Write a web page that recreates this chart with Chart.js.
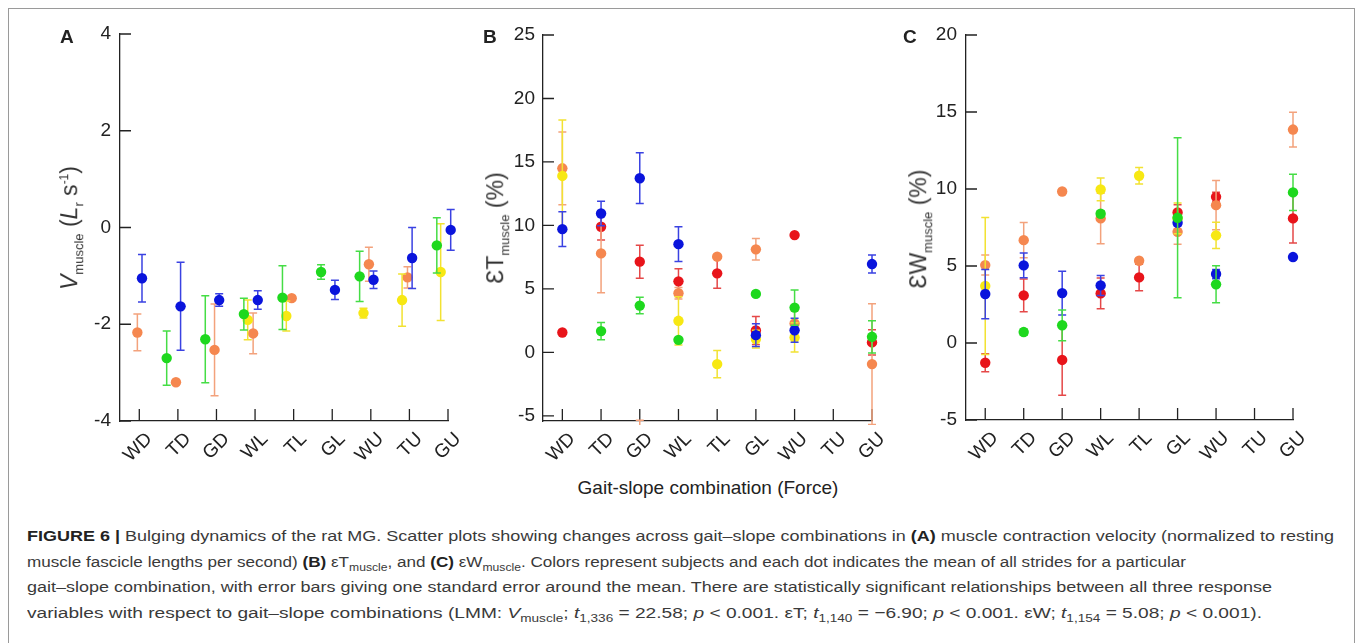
<!DOCTYPE html>
<html>
<head>
<meta charset="utf-8">
<script src="https://cdn.jsdelivr.net/npm/chart.js@4/dist/chart.umd.min.js"></script>
<style>
  body { margin: 0; background: #fff; width: 1357px; height: 643px; overflow: hidden; position: relative;
         font-family: "Liberation Sans", Arial, sans-serif; color: #222; }
  #frame { position: absolute; left: 8px; top: 8px; width: 1345px; height: 700px; border: 1px solid #9a9a9a; }
  canvas { position: absolute; }
  .letter { position: absolute; font-weight: bold; font-size: 19px; }
  .ytitle { position: absolute; white-space: nowrap; font-size: 23px; color: #333;
            transform: translate(-50%, -50%) rotate(-90deg); }
  .ytitle sub { font-size: 13px; }
  .ytitle sup { font-size: 12px; }
  #xtitle { position: absolute; left: 708px; top: 488px; transform: translate(-50%, -50%); font-size: 19px; white-space: nowrap; }
  .cap { position: absolute; left: 27px; white-space: nowrap; font-size: 15.5px; color: #3a3a3a; transform-origin: 0 50%; }
  .cap b { color: #222; }
  .cap sub { font-size: 11px; }
</style>
</head>
<body>
<div id="frame"></div>

<canvas id="chartA" width="390" height="450" style="left:70px;top:20px"></canvas>
<canvas id="chartB" width="390" height="450" style="left:500px;top:20px"></canvas>
<canvas id="chartC" width="390" height="450" style="left:920px;top:20px"></canvas>

<div class="letter" style="left:60px;top:26px">A</div>
<div class="letter" style="left:483px;top:26px">B</div>
<div class="letter" style="left:903px;top:26px">C</div>

<div class="ytitle" style="left:71px;top:228px"><i>V</i><sub>muscle</sub> (<i>L</i><sub>r</sub> s<sup>-1</sup>)</div>
<div class="ytitle" style="left:497px;top:228px">ƐT<sub>muscle</sub> (%)</div>
<div class="ytitle" style="left:920px;top:229px">ƐW<sub>muscle</sub> (%)</div>

<div id="xtitle">Gait-slope combination (Force)</div>

<div class="cap" data-w="1307" style="top:527px"><b>FIGURE 6 |</b> Bulging dynamics of the rat MG. Scatter plots showing changes across gait–slope combinations in <b>(A)</b> muscle contraction velocity (normalized to resting</div>
<div class="cap" data-w="1159" style="top:553px">muscle fascicle lengths per second) <b>(B)</b> εT<sub>muscle</sub>, and <b>(C)</b> εW<sub>muscle</sub>. Colors represent subjects and each dot indicates the mean of all strides for a particular</div>
<div class="cap" data-w="1245" style="top:578px">gait–slope combination, with error bars giving one standard error around the mean. There are statistically significant relationships between all three response</div>
<div class="cap" data-w="1235" style="top:604px">variables with respect to gait–slope combinations (LMM: <i>V</i><sub>muscle</sub>; <i>t</i><sub>1,336</sub> = 22.58; <i>p</i> &lt; 0.001. εT; <i>t</i><sub>1,140</sub> = −6.90; <i>p</i> &lt; 0.001. εW; <i>t</i><sub>1,154</sub> = 5.08; <i>p</i> &lt; 0.001).</div>

<script>
// Categories and ticks
const categories = ['WD', 'TD', 'GD', 'WL', 'TL', 'GL', 'WU', 'TU', 'GU'];
const velTicks = [-4, -2, 0, 2, 4];
const thickTicks = [-5, 0, 5, 10, 15, 20, 25];
const widthTicks = [-5, 0, 5, 10, 15, 20];

// Panel A: muscle velocity (mean, standard error)
const velGreen = [null, -2.70, -2.31, -1.79, -1.45, -0.92, -1.01, null, -0.37];
const velGreenErr = [null, 0.56, 0.90, 0.33, 0.66, 0.15, 0.52, null, 0.57];
const velBlue = [-1.05, -1.63, -1.50, -1.50, null, -1.29, -1.08, -0.63, -0.05];
const velBlueErr = [0.49, 0.91, 0.13, 0.19, null, 0.20, 0.18, 0.63, 0.42];
const velYellow = [null, null, null, -1.91, -1.83, null, -1.77, -1.50, -0.92];
const velYellowErr = [null, null, null, 0.41, 0.31, null, 0.10, 0.54, 1.00];
const velOrange = [-2.17, -3.20, -2.53, -2.19, -1.46, null, -0.76, -1.03, null];
const velOrangeErr = [0.38, 0.03, 0.95, 0.42, 0.05, null, 0.35, 0.22, null];
const velRed = [null, null, null, null, null, null, null, null, null];
const velRedErr = [null, null, null, null, null, null, null, null, null];

// Panel B: thickness strain
const thickGreen = [null, 1.68, 3.69, 0.99, null, 4.61, 3.53, null, 1.23];
const thickGreenErr = [null, 0.68, 0.65, 0.10, null, 0.10, 1.39, null, 1.27];
const thickBlue = [9.71, 10.94, 13.72, 8.53, null, 1.36, 1.75, null, 6.96];
const thickBlueErr = [1.36, 0.97, 2.00, 1.36, null, 0.90, 0.95, null, 0.71];
const thickYellow = [13.9, null, null, 2.49, -0.92, 1.05, 1.18, null, null];
const thickYellowErr = [4.40, null, null, 1.90, 1.08, 0.70, 1.15, null, null];
const thickOrange = [14.5, 7.8, -7.0, 4.66, 7.54, 8.12, 2.28, null, -0.92];
const thickOrangeErr = [2.87, 3.10, 1.65, 0.45, 0.10, 0.85, 1.00, null, 4.75];
const thickRed = [1.57, 9.9, 7.15, 5.6, 6.23, 1.73, 9.24, null, 0.79];
const thickRedErr = [0.05, 1.05, 1.30, 1.00, 1.18, 1.10, 0.05, null, 1.00];

// Panel C: width strain
const widthGreen = [null, 0.71, 1.15, 8.39, null, 8.13, 3.81, null, 9.78];
const widthGreenErr = [null, 0.20, 1.00, 0.20, null, 5.19, 1.20, null, 1.17];
const widthBlue = [3.18, 5.04, 3.24, 3.74, null, 7.81, 4.48, null, 5.58];
const widthBlueErr = [1.60, 0.81, 1.42, 0.65, null, 0.20, 0.30, null, 0.05];
const widthYellow = [3.70, null, null, 9.97, 10.86, 8.09, 6.99, null, null];
const widthYellowErr = [4.45, null, null, 0.74, 0.54, 1.00, 0.85, null, null];
const widthOrange = [5.06, 6.68, 9.84, 8.09, 5.34, 7.22, 8.95, null, 13.86];
const widthOrangeErr = [0.65, 1.15, 0.05, 1.64, 0.05, 0.80, 1.60, null, 1.13];
const widthRed = [-1.28, 3.09, -1.10, 3.22, 4.26, 8.48, 9.49, null, 8.09];
const widthRedErr = [0.58, 1.06, 2.30, 1.00, 0.86, 0.50, 0.30, null, 1.60];

// Estilo
const FONT = 'Liberation Sans, Arial, sans-serif';
const AXIS = '#222';
const subjects = [
  { name: 'Green', color: '#1ed81e', err: '#45dd45', dodge: -0.29 },
  { name: 'Blue', color: '#0a14dc', err: '#3a42e2', dodge: 0.07 },
  { name: 'Yellow', color: '#f7e813', err: '#f2e232', dodge: -0.19 },
  { name: 'Orange', color: '#f5874f', err: '#f3a27c', dodge: -0.05 },
  { name: 'Red', color: '#e8141a', err: '#e54848', dodge: 0.18 }
];

// Dibuja barras de error antes de cada serie
const errorBars = {
  id: 'errorBars',
  beforeDatasetDraw(chart, args) {
    const ds = chart.data.datasets[args.index];
    const y = chart.scales.y;
    const a = chart.chartArea;
    const ctx = chart.ctx;
    ctx.save();
    ctx.beginPath();
    ctx.rect(a.left - 12, a.top - 12, a.right - a.left + 24, a.bottom - a.top + 16);
    ctx.clip();
    ctx.strokeStyle = ds.errColor;
    ctx.lineWidth = 1.5;
    ds.data.forEach((d, i) => {
      const px = args.meta.data[i].x;
      const top = y.getPixelForValue(d.y + d.err);
      const bot = y.getPixelForValue(d.y - d.err);
      ctx.beginPath();
      ctx.moveTo(px, top); ctx.lineTo(px, bot);
      ctx.moveTo(px - 4, top); ctx.lineTo(px + 4, top);
      ctx.moveTo(px - 4, bot); ctx.lineTo(px + 4, bot);
      ctx.stroke();
    });
    ctx.restore();
  }
};

// Marcas de eje hacia dentro
const innerTicks = {
  id: 'innerTicks',
  beforeDatasetsDraw(chart) {
    const { ctx, chartArea: a, scales: { x, y } } = chart;
    ctx.save();
    ctx.strokeStyle = AXIS;
    ctx.lineWidth = 1.3;
    ctx.beginPath();
    x.ticks.forEach(t => {
      const px = x.getPixelForValue(t.value);
      ctx.moveTo(px, a.bottom); ctx.lineTo(px, a.bottom - 12);
    });
    y.ticks.forEach(t => {
      const py = y.getPixelForValue(t.value);
      ctx.moveTo(a.left, py); ctx.lineTo(a.left + 11, py);
    });
    ctx.stroke();
    ctx.restore();
  }
};

function buildDatasets(series, jitter) {
  return subjects.map((s, k) => {
    const [means, errs] = series[k];
    const pts = [];
    means.forEach((m, i) => {
      if (m === null) return;
      pts.push({ x: i + 1 + (jitter ? s.dodge : 0), y: m, err: errs[i] || 0 });
    });
    return {
      label: s.name,
      data: pts,
      backgroundColor: s.color,
      borderWidth: 0,
      pointRadius: 5.2,
      pointHoverRadius: 5.2,
      errColor: s.err,
      clip: { left: 10, right: 10, top: 10, bottom: 0 }
    };
  });
}

function makeChart(id, series, jitter, yMin, yMax, yTicks, yWidth, xHeight, padding, yPad) {
  new Chart(document.getElementById(id), {
    type: 'scatter',
    data: { datasets: buildDatasets(series, jitter) },
    options: {
      responsive: false,
      animation: false,
      events: [],
      layout: { padding },
      plugins: { legend: { display: false }, tooltip: { enabled: false } },
      scales: {
        x: {
          type: 'linear', min: 0.5, max: 9,
          afterBuildTicks: s => { s.ticks = categories.map((c, i) => ({ value: i + 1 })); },
          afterFit: s => { s.height = xHeight; s.paddingLeft = 0; s.paddingRight = 0; },
          grid: { display: true, drawOnChartArea: false, drawTicks: false },
          border: { display: true, color: AXIS, width: 1.3 },
          ticks: {
            autoSkip: false, minRotation: 45, maxRotation: 45,
            callback: v => categories[v - 1],
            font: { family: FONT, size: 19 }, color: AXIS, padding: 7, labelOffset: 10
          }
        },
        y: {
          min: yMin, max: yMax,
          afterBuildTicks: s => { s.ticks = yTicks.map(v => ({ value: v })); },
          afterFit: s => { s.width = yWidth; s.paddingTop = 0; s.paddingBottom = 0; },
          grid: { display: true, drawOnChartArea: false, drawTicks: false },
          border: { display: true, color: AXIS, width: 1.3 },
          ticks: { font: { family: FONT, size: 19 }, color: AXIS, padding: yPad }
        }
      }
    },
    plugins: [errorBars, innerTicks]
  });
}

makeChart('chartA', [
  [velGreen, velGreenErr], [velBlue, velBlueErr], [velYellow, velYellowErr],
  [velOrange, velOrangeErr], [velRed, velRedErr]
], true, -4, 4, velTicks, 50, 49, { top: 14, right: 12, left: 0, bottom: 0 }, 9);

makeChart('chartB', [
  [thickGreen, thickGreenErr], [thickBlue, thickBlueErr], [thickYellow, thickYellowErr],
  [thickOrange, thickOrangeErr], [thickRed, thickRedErr]
], false, -5.4, 25, thickTicks, 43, 49, { top: 15, right: 18, left: 0, bottom: 0 }, 8);

makeChart('chartC', [
  [widthGreen, widthGreenErr], [widthBlue, widthBlueErr], [widthYellow, widthYellowErr],
  [widthOrange, widthOrangeErr], [widthRed, widthRedErr]
], false, -5, 20, widthTicks, 46, 50, { top: 15, right: 17, left: 0, bottom: 0 }, 9);

// Ajustar ancho de las líneas del pie de figura
document.querySelectorAll('.cap').forEach(el => {
  const target = parseFloat(el.dataset.w);
  const w = el.getBoundingClientRect().width;
  if (w > 0) el.style.transform = 'scaleX(' + (target / w).toFixed(4) + ')';
});
</script>
</body>
</html>
